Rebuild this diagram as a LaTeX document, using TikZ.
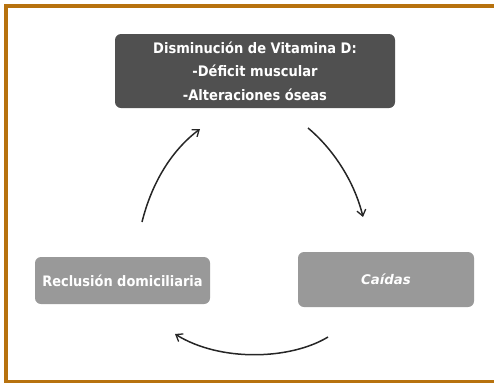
\documentclass[tikz,border=0pt]{standalone}
\usepackage{fontspec}
\setmainfont{DejaVu Sans Condensed}
\newfontfamily\caifont{DejaVu Sans}
\usetikzlibrary{arrows.meta}
\definecolor{frameC}{RGB}{183,114,14}
\definecolor{darkbox}{RGB}{80,80,80}
\definecolor{lightbox}{RGB}{153,153,153}
\tikzset{
  boxbase/.style={rounded corners=6pt, text=white, align=center, inner sep=0pt, font=\fontsize{14.5}{23.5}\selectfont\bfseries},
  cyclearrow/.style={line width=1.5pt, color=black!85, -{Straight Barb[length=6pt,width=9pt,line width=1.3pt]}},
}
\begin{document}
\begin{tikzpicture}[x=1pt,y=-1pt]
\useasboundingbox (0,0) rectangle (494,383);
% frame
\fill[frameC] (4,4) rectangle (494,8);
\fill[frameC] (4,4) rectangle (8,383);
\fill[frameC] (4,380) rectangle (494,383);
% boxes
\node[boxbase, fill=darkbox, minimum width=280pt, minimum height=74pt] (vit) at (255,71)
  {Disminución de Vitamina D:\\-Déficit muscular\\-Alteraciones óseas};
\node[boxbase, fill=lightbox, minimum width=175pt, minimum height=47pt, font=\fontsize{14.4}{17}\selectfont\bfseries] (rec) at (122.5,280.5)
  {Reclusión domiciliaria};
\node[boxbase, fill=lightbox, minimum width=176pt, minimum height=55pt, font=\caifont\fontsize{13.3}{16}\selectfont\bfseries\itshape] (cai) at (386,279.5)
  {Caídas};
% arrow endpoints
\coordinate (a1s) at (142,222);
\coordinate (a1e) at (200,129);
\coordinate (a2s) at (308,128);
\coordinate (a2e) at (363,217);
\coordinate (a3s) at (328,337);
\coordinate (a3e) at (175,334);
\draw[cyclearrow] (a1s) .. controls (152,182) and (172,150) .. (a1e);
\draw[cyclearrow] (a2s) .. controls (332,148) and (354,180) .. (a2e);
\draw[cyclearrow] (a3s) .. controls (290,360) and (220,362) .. (a3e);
\end{tikzpicture}
\end{document}
